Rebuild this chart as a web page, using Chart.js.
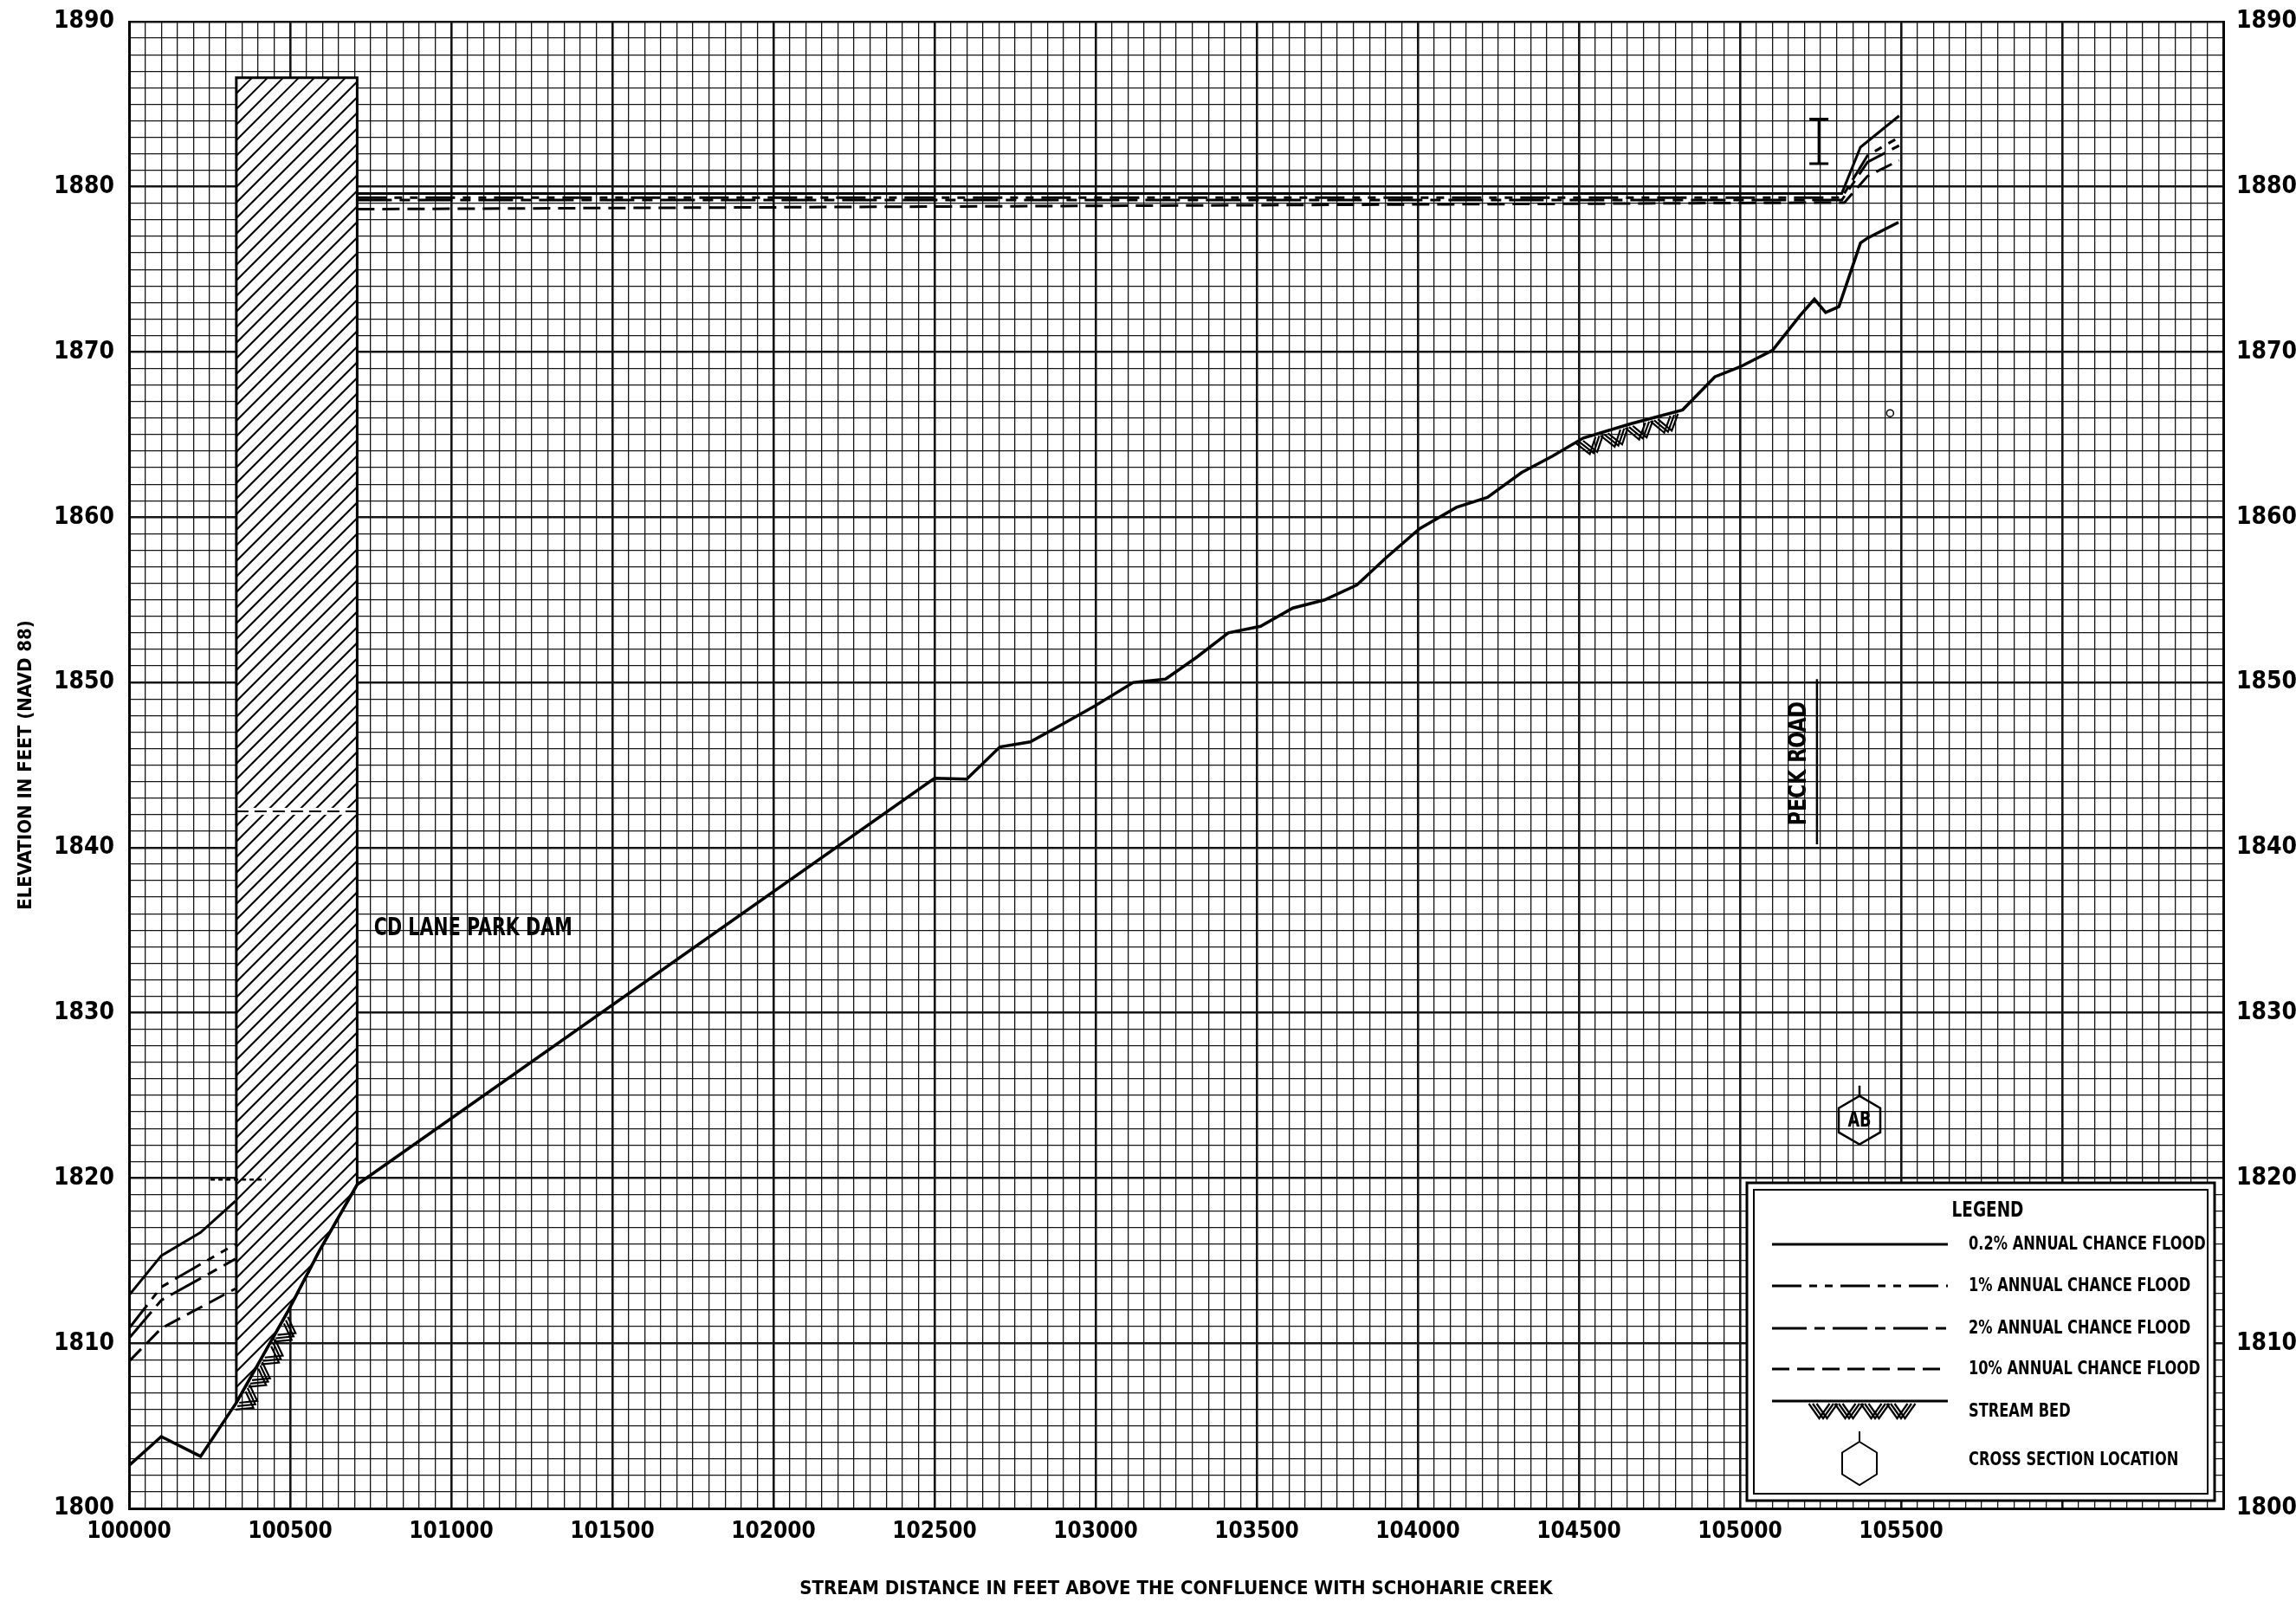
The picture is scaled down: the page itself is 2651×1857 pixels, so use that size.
<!DOCTYPE html>
<html>
<head>
<meta charset="utf-8">
<title>Flood profile - CD Lane Park Dam</title>
<script src="https://cdn.jsdelivr.net/npm/chart.js@4.4.1/dist/chart.umd.min.js"></script>
<style>
  html, body { margin: 0; padding: 0; background: #fff; }
</style>
</head>
<body>
<canvas id="profile" width="2651" height="1857"></canvas>
<script>
/* stream distance (ft above confluence) and elevation (ft NAVD 88) */
const bedX = [100000, 100100, 100222, 100333, 100495, 100591, 100708, 102500, 102600, 102703, 102797, 102900, 103000,
  103117, 103217, 103312, 103412, 103512, 103612, 103711, 103811, 103899, 104005, 104120, 104216, 104322, 104418,
  104514, 104660, 104822, 104922, 105000, 105101, 105186, 105231, 105266, 105307, 105374, 105396, 105492];
const bedY = [1802.6, 1804.35, 1803.15, 1806.4, 1812.0, 1815.6, 1819.6, 1844.2, 1844.15, 1846.1, 1846.4, 1847.5, 1848.6,
  1850.0, 1850.2, 1851.5, 1853.0, 1853.4, 1854.5, 1855.0, 1855.9, 1857.5, 1859.3, 1860.6, 1861.2, 1862.7, 1863.7,
  1864.8, 1865.65, 1866.5, 1868.5, 1869.1, 1870.1, 1872.2, 1873.2, 1872.4, 1872.75, 1876.6, 1876.9, 1877.85];

// flood profiles: null elevation = break at the dam
const flood02X = [100000, 100100, 100222, 100330, 100500, 100708, 105316, 105374, 105494];
const flood02Y = [1812.9, 1815.3, 1816.7, 1818.6, null, 1879.6, 1879.6, 1882.4, 1884.3];
const flood1X = [100000, 100100, 100330, 100500, 100708, 105316, 105396, 105494];
const flood1Y = [1810.9, 1813.4, 1816.0, null, 1879.35, 1879.35, 1881.9, 1883.0];
const flood2X = [100000, 100100, 100330, 100500, 100708, 105316, 105396, 105494];
const flood2Y = [1810.3, 1812.6, 1815.1, null, 1879.2, 1879.2, 1881.5, 1882.5];
const flood10X = [100000, 100100, 100330, 100500, 100708, 105324, 105396, 105494];
const flood10Y = [1808.9, 1810.9, 1813.3, null, 1878.65, 1879.05, 1880.65, 1881.6];
const crestX = [100253, 100424];
const crestY = [1819.9, 1819.9];

// dam, stream bed symbol ranges and other marks
const damLeft = 100333, damRight = 100708, damTop = 1886.6, damBreakY = 1842.2;
const bedMarkRanges = [[100345, 100485], [104530, 104800]];
const xSection = { x: 105371, y: 1823.5, label: 'AB' };
const peckRoad = { x: 105239, y0: 1840.2, y1: 1850.2, label: 'PECK ROAD' };
const damLabel = { x: 100760, y: 1835.1, label: 'CD LANE PARK DAM' };
const gauge = { x: 105245, y0: 1881.4, y1: 1884.1 };
const smallMark = { x: 105466, y: 1866.3 };

// axes
const xMin = 100000, xMax = 106500, xStep = 50, xLabelStep = 500, xLastLabel = 105500;
const yMin = 1800, yMax = 1890, yStep = 1, yLabelStep = 10;

const legendLabels = ['0.2% ANNUAL CHANCE FLOOD', '1% ANNUAL CHANCE FLOOD', '2% ANNUAL CHANCE FLOOD',
  '10% ANNUAL CHANCE FLOOD', 'STREAM BED', 'CROSS SECTION LOCATION'];

const FONT = '"Liberation Sans Narrow", "DejaVu Sans Condensed", "DejaVu Sans", sans-serif';
const SQUASH = 0.82; // condensed lettering of the original drawing
const dashes = [[], [34, 9, 9, 9, 9, 9], [40, 9, 12, 9], [20, 9]];

function pts(xs, ys) {
  return xs.map(function(v, i) { return { x: v, y: ys[i] }; });
}

function line(data, dash, width) {
  return {
    data: data, borderColor: '#000', borderWidth: width, borderDash: dash,
    pointRadius: 0, tension: 0, fill: false, spanGaps: false
  };
}

function label(ctx, text, x, y) {
  ctx.save();
  ctx.translate(x, y);
  ctx.scale(SQUASH, 1);
  ctx.fillText(text, 0, 0);
  ctx.restore();
}

function hexagon(ctx, cx, cy, w, h, stem) {
  ctx.beginPath();
  ctx.moveTo(cx, cy - h / 2);
  ctx.lineTo(cx + w / 2, cy - h / 4);
  ctx.lineTo(cx + w / 2, cy + h / 4);
  ctx.lineTo(cx, cy + h / 2);
  ctx.lineTo(cx - w / 2, cy + h / 4);
  ctx.lineTo(cx - w / 2, cy - h / 4);
  ctx.closePath();
  ctx.moveTo(cx, cy - h / 2);
  ctx.lineTo(cx, cy - h / 2 - stem);
  ctx.stroke();
}

// V shaped hatch under a polyline (pixel points)
function bedMarks(ctx, p) {
  const step = 30;
  let carry = 0;
  for (let i = 0; i < p.length - 1; i++) {
    const dx = p[i + 1][0] - p[i][0], dy = p[i + 1][1] - p[i][1];
    const len = Math.hypot(dx, dy);
    const tx = dx / len, ty = dy / len;
    const nx = -ty, ny = tx;
    let s = carry;
    for (; s < len; s += step) {
      const cx = p[i][0] + tx * s, cy = p[i][1] + ty * s;
      for (let k = -1; k <= 1; k++) {
        const ox = cx + tx * k * 4.5, oy = cy + ty * k * 4.5;
        ctx.beginPath();
        ctx.moveTo(ox - tx * 12 + nx * 3, oy - ty * 12 + ny * 3);
        ctx.lineTo(ox + nx * 20, oy + ny * 20);
        ctx.lineTo(ox + tx * 12 + nx * 3, oy + ty * 12 + ny * 3);
        ctx.stroke();
      }
    }
    carry = s - len;
  }
}

function bedAt(v) {
  for (let i = 0; i < bedX.length - 1; i++) {
    if (v >= bedX[i] && v <= bedX[i + 1]) {
      return bedY[i] + (bedY[i + 1] - bedY[i]) * (v - bedX[i]) / (bedX[i + 1] - bedX[i]);
    }
  }
  return bedY[bedY.length - 1];
}

function bedPixels(xs, ys, a, b) {
  const out = [[xs.getPixelForValue(a), ys.getPixelForValue(bedAt(a))]];
  bedX.forEach(function(v, i) {
    if (v > a && v < b) out.push([xs.getPixelForValue(v), ys.getPixelForValue(bedY[i])]);
  });
  out.push([xs.getPixelForValue(b), ys.getPixelForValue(bedAt(b))]);
  return out;
}

const extras = {
  id: 'extras',
  beforeDatasetsDraw: function(chart) {
    const ctx = chart.ctx, xs = chart.scales.x, ys = chart.scales.y;
    const poly = [[damLeft, damTop], [damRight, damTop]];
    for (let i = bedX.length - 1; i >= 0; i--) {
      if (bedX[i] >= damLeft && bedX[i] <= damRight) poly.push([bedX[i], bedY[i]]);
    }
    const trace = function() {
      ctx.beginPath();
      poly.forEach(function(p, i) {
        const px = xs.getPixelForValue(p[0]), py = ys.getPixelForValue(p[1]);
        if (i) ctx.lineTo(px, py); else ctx.moveTo(px, py);
      });
      ctx.closePath();
    };
    ctx.save();
    trace();
    ctx.fillStyle = '#fff';
    ctx.fill();
    ctx.save();
    ctx.clip();
    const l = xs.getPixelForValue(damLeft), r = xs.getPixelForValue(damRight);
    const t = ys.getPixelForValue(damTop), b = ys.getPixelForValue(yMin);
    ctx.strokeStyle = '#000';
    ctx.lineWidth = 2;
    ctx.beginPath();
    for (let k = l - (b - t); k < r; k += 18) {
      ctx.moveTo(k, b);
      ctx.lineTo(k + (b - t), t);
    }
    ctx.stroke();
    const by = ys.getPixelForValue(damBreakY);
    ctx.fillStyle = '#fff';
    ctx.fillRect(l, by - 4, r - l, 8);
    ctx.setLineDash([14, 7]);
    ctx.beginPath();
    ctx.moveTo(l, by);
    ctx.lineTo(r, by);
    ctx.stroke();
    ctx.restore();
    trace();
    ctx.lineWidth = 3;
    ctx.strokeStyle = '#000';
    ctx.stroke();
    ctx.restore();
  },
  afterDatasetsDraw: function(chart) {
    const ctx = chart.ctx, xs = chart.scales.x, ys = chart.scales.y, area = chart.chartArea;
    ctx.save();
    ctx.strokeStyle = '#000';
    ctx.fillStyle = '#000';

    // stream bed symbol
    ctx.lineWidth = 2.2;
    bedMarkRanges.forEach(function(rg) { bedMarks(ctx, bedPixels(xs, ys, rg[0], rg[1])); });

    // cross section
    const hx = xs.getPixelForValue(xSection.x), hy = ys.getPixelForValue(xSection.y);
    ctx.lineWidth = 2.5;
    hexagon(ctx, hx, hy, 48, 56, 12);
    ctx.font = 'bold 24px ' + FONT;
    ctx.textAlign = 'center';
    ctx.textBaseline = 'middle';
    label(ctx, xSection.label, hx, hy + 1);

    // Peck Road
    const px = xs.getPixelForValue(peckRoad.x);
    ctx.lineWidth = 2.5;
    ctx.beginPath();
    ctx.moveTo(px, ys.getPixelForValue(peckRoad.y0));
    ctx.lineTo(px, ys.getPixelForValue(peckRoad.y1));
    ctx.stroke();
    ctx.save();
    ctx.translate(px - 20, ys.getPixelForValue((peckRoad.y0 + peckRoad.y1) / 2) + 2);
    ctx.rotate(-Math.PI / 2);
    ctx.font = 'bold 28px ' + FONT;
    ctx.scale(0.88, 1);
    ctx.fillText(peckRoad.label, 0, 0);
    ctx.restore();

    // dam label
    ctx.font = 'bold 28px ' + FONT;
    ctx.textAlign = 'left';
    label(ctx, damLabel.label, xs.getPixelForValue(damLabel.x), ys.getPixelForValue(damLabel.y));

    // I mark
    const gx = xs.getPixelForValue(gauge.x), g0 = ys.getPixelForValue(gauge.y0), g1 = ys.getPixelForValue(gauge.y1);
    ctx.lineWidth = 3;
    ctx.beginPath();
    ctx.moveTo(gx, g0); ctx.lineTo(gx, g1);
    ctx.moveTo(gx - 11, g0); ctx.lineTo(gx + 11, g0);
    ctx.moveTo(gx - 11, g1); ctx.lineTo(gx + 11, g1);
    ctx.stroke();

    ctx.lineWidth = 1.5;
    ctx.beginPath();
    ctx.arc(xs.getPixelForValue(smallMark.x), ys.getPixelForValue(smallMark.y), 4, 0, Math.PI * 2);
    ctx.stroke();

    // legend
    const w = 540, h = 367;
    const L = area.right - 10 - w, T = area.bottom - 9 - h;
    ctx.fillStyle = '#fff';
    ctx.fillRect(L, T, w, h);
    ctx.strokeStyle = '#000';
    ctx.lineWidth = 3;
    ctx.strokeRect(L, T, w, h);
    ctx.lineWidth = 2;
    ctx.strokeRect(L + 8, T + 8, w - 16, h - 16);
    ctx.fillStyle = '#000';
    ctx.textAlign = 'center';
    ctx.textBaseline = 'middle';
    ctx.font = 'bold 25px ' + FONT;
    label(ctx, 'LEGEND', L + 278, T + 32);
    ctx.font = 'bold 22px ' + FONT;
    ctx.textAlign = 'left';
    const rows = [71, 119, 168, 215, 264, 320];
    legendLabels.forEach(function(lab, i) {
      const ry = T + rows[i];
      label(ctx, lab, L + 256, ry);
      if (i < 4) {
        ctx.lineWidth = 3;
        ctx.setLineDash(dashes[i]);
        ctx.beginPath();
        ctx.moveTo(L + 29, ry);
        ctx.lineTo(L + 232, ry);
        ctx.stroke();
        ctx.setLineDash([]);
      } else if (i === 4) {
        ctx.lineWidth = 3;
        ctx.beginPath();
        ctx.moveTo(L + 29, ry - 12);
        ctx.lineTo(L + 232, ry - 12);
        ctx.stroke();
        ctx.lineWidth = 2.2;
        bedMarks(ctx, [[L + 88, ry - 12], [L + 180, ry - 12]]);
      } else {
        ctx.lineWidth = 2;
        hexagon(ctx, L + 130, ry + 4, 40, 50, 12);
      }
    });
    ctx.restore();
  }
};

function fitY(width) {
  return function(s) {
    s.width = width;
    s.paddingTop = 0;
    s.paddingBottom = 0;
  };
}

Chart.defaults.font.family = FONT;
Chart.defaults.color = '#000';

new Chart(document.getElementById('profile'), {
  type: 'line',
  data: {
    datasets: [
      line(pts(bedX, bedY), [], 3.5),
      line(pts(flood02X, flood02Y), dashes[0], 3),
      line(pts(flood1X, flood1Y), dashes[1], 3),
      line(pts(flood2X, flood2Y), dashes[2], 3),
      line(pts(flood10X, flood10Y), dashes[3], 3),
      line(pts(crestX, crestY), [5, 4], 2.5)
    ]
  },
  options: {
    responsive: false,
    devicePixelRatio: 1,
    animation: false,
    layout: { padding: { top: 25, left: 0, right: 0, bottom: 0 } },
    plugins: { legend: { display: false }, tooltip: { enabled: false } },
    scales: {
      x: {
        type: 'linear', min: xMin, max: xMax,
        afterFit: function(s) { s.height = 115; },
        ticks: {
          stepSize: xStep, autoSkip: false, maxRotation: 0, padding: 12,
          font: { size: 26, weight: 'bold' },
          callback: function(v) {
            const r = Math.round(v);
            return (r % xLabelStep === 0 && r <= xLastLabel) ? String(r) : '';
          }
        },
        grid: {
          drawTicks: false, color: '#151515',
          lineWidth: function(c) { return c.tick && Math.round(c.tick.value) % xLabelStep === 0 ? 2.6 : 1.3; }
        },
        border: { display: true, width: 3, color: '#000' },
        title: {
          display: true, text: 'STREAM DISTANCE IN FEET ABOVE THE CONFLUENCE WITH SCHOHARIE CREEK',
          font: { size: 22, weight: 'bold' }, padding: { top: 0, bottom: 9 }
        }
      },
      y: {
        type: 'linear', min: yMin, max: yMax, position: 'left',
        afterFit: fitY(149),
        ticks: {
          stepSize: yStep, autoSkip: false, padding: 17,
          font: { size: 28, weight: 'bold' },
          callback: function(v) { return Math.round(v) % yLabelStep === 0 ? String(Math.round(v)) : ''; }
        },
        grid: {
          drawTicks: false, color: '#151515',
          lineWidth: function(c) { return c.tick && Math.round(c.tick.value) % yLabelStep === 0 ? 2.6 : 1.3; }
        },
        border: { display: true, width: 3, color: '#000' },
        title: {
          display: true, text: 'ELEVATION IN FEET (NAVD 88)',
          font: { size: 22, weight: 'bold' }, padding: { top: 17, bottom: 0 }
        }
      },
      y2: {
        type: 'linear', min: yMin, max: yMax, position: 'right',
        afterFit: fitY(84),
        ticks: {
          stepSize: yStep, autoSkip: false, padding: 15,
          font: { size: 28, weight: 'bold' },
          callback: function(v) { return Math.round(v) % yLabelStep === 0 ? String(Math.round(v)) : ''; }
        },
        grid: { drawOnChartArea: false, drawTicks: false },
        border: { display: true, width: 3, color: '#000' }
      }
    }
  },
  plugins: [extras]
});
</script>
</body>
</html>
